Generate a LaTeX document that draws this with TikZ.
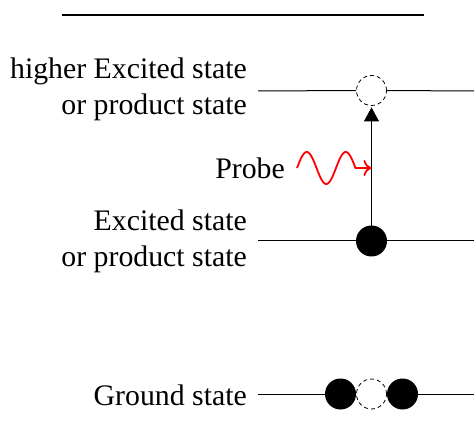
\documentclass[tikz,border=0pt]{standalone}
\usepackage{fontspec}
\setmainfont{Liberation Serif}
\usetikzlibrary{arrows.meta,calc}
\begin{document}
\begin{tikzpicture}[x=1pt,y=-1pt,
  lbl/.style={font=\fontsize{29.8}{36}\selectfont, align=right, anchor=east, inner sep=0pt},
  level/.style={line width=1pt},
  filledst/.style={circle, fill=black, minimum size=31pt, inner sep=0pt},
  emptyst/.style={circle, draw=black, fill=white, dash pattern=on 4pt off 3pt, line width=0.8pt, minimum size=30pt, inner sep=0pt},
  probewave/.style={red, line width=1.8pt}]
\useasboundingbox (0,0) rectangle (474,446);
% top rule
\coordinate (t1) at (62,15);
\coordinate (t2) at (424,15);
\draw[line width=1.3pt] (t1) -- (t2);
% labels
\node[lbl] (hi) at (247,89) {higher Excited state\\or product state};
\node[lbl] (ex) at (247,241) {Excited state\\or product state};
\node[lbl] (gr) at (247,395) {Ground state};
\node[lbl] (probe) at (285,168) {Probe};
% level endpoints
\coordinate (hl) at (258,91);  \coordinate (hr) at (474,91);
\coordinate (el) at (258,241); \coordinate (er) at (474,241);
\coordinate (gl) at (258,394); \coordinate (gr2) at (474,394);
% states
\node[emptyst] (u) at (371.5,90.5) {};
\draw[level] (hl) -- (u.west);
\draw[level] (u.east) -- (hr);
\draw[level] (el) -- (er);
\node[filledst] (e) at (371.5,241) {};
\node[filledst] (g1) at (340.5,394) {};
\node[emptyst] (g2) at (371.5,394) {};
\node[filledst] (g3) at (402.5,394) {};
\draw[level] (gl) -- (g1.west);
\draw[level] (g3.east) -- (gr2);
% transition arrow
\draw[line width=0.8pt, shorten >=1.5pt, -{Triangle[length=14pt,width=15pt]}] (e.center) -- (u.south);
% probe photon
\coordinate (hit) at (u |- probe);
\draw[probewave, -{To[length=8pt,width=16pt]}]
  plot[domain=0:540, samples=90, smooth] ({297 + \x/360*39}, {168 - 16*sin(\x)}) -- (hit);
\end{tikzpicture}
\end{document}
